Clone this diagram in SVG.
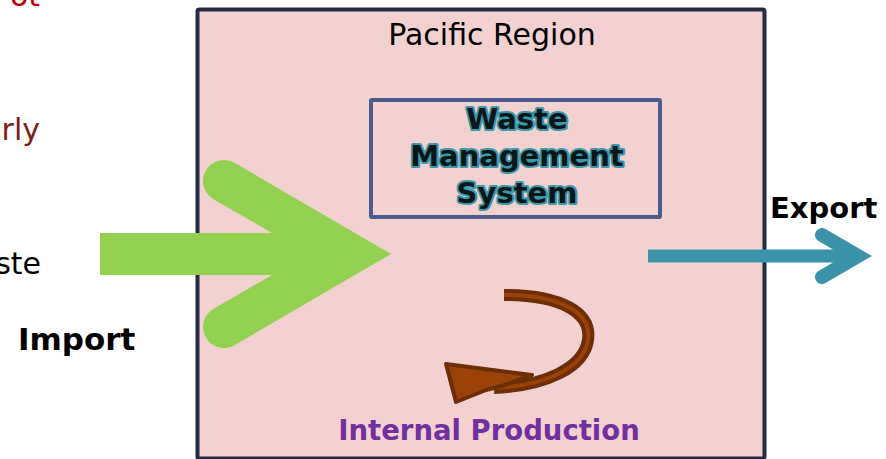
<svg xmlns="http://www.w3.org/2000/svg" width="886" height="459" viewBox="0 0 886 459">
<style>
.reg{font-family:"DejaVu Sans","Liberation Sans",sans-serif;}
.b{font-family:"DejaVu Sans","Liberation Sans",sans-serif;font-weight:bold;}
.wms{font-family:"DejaVu Sans","Liberation Sans",sans-serif;font-weight:bold;font-size:29px;fill:#0B1618;stroke:#3A98AC;stroke-width:4px;paint-order:stroke;stroke-linejoin:round;text-anchor:middle;}
</style>
<rect width="886" height="459" fill="#FFFFFF"/>
<g id="left-text">
<text class="reg" x="40" y="6" font-size="30" fill="#C00000" text-anchor="end">ot</text>
<text class="reg" x="40" y="140" font-size="30" fill="#7B1C1C" text-anchor="end">rly</text>
<text class="reg" x="41" y="274" font-size="30" fill="#000000" text-anchor="end">ste</text>
</g>
<g id="pacific-region">
<rect x="197.5" y="9.5" width="567" height="449" rx="2" fill="#F4D1D1" stroke="#232B45" stroke-width="4"/>
<text class="reg" x="492" y="45" font-size="30" fill="#000000" text-anchor="middle">Pacific Region</text>
</g>
<g id="waste-management-system">
<rect x="371" y="100" width="289" height="117" rx="1" fill="none" stroke="#4B5B8E" stroke-width="4"/>
<text class="wms" x="517" y="129">Waste</text>
<text class="wms" x="517" y="166">Management</text>
<text class="wms" x="517" y="203">System</text>
</g>
<g id="connectors">
<path id="import-arrow" d="M100,233 L272,233 L213.5,199.2 A21,21 0 0 1 234.5,162.8 L391,254 L234.5,345.2 A21,21 0 0 1 213.5,308.8 L272,275 L100,275 Z" fill="#92D050"/>
<g id="export-arrow" fill="none" stroke="#3A93A8" stroke-width="14">
<line x1="648" y1="256" x2="860" y2="256" stroke-width="13"/>
<polyline points="822,235 858,256 822,277" stroke-linecap="round" stroke-linejoin="miter"/>
</g>
<g id="internal-arrow">
<path d="M504,295 C562,295 592,313 588,340 C584,368 545,386 494,388" fill="none" stroke="#6B2E07" stroke-width="12" stroke-linecap="butt"/>
<path d="M504,295 C562,295 592,313 588,340 C584,368 545,386 494,388" fill="none" stroke="#9C4209" stroke-width="4"/>
<polygon points="446,364 532,375 505,385 486,390 456,402" fill="#9C4209" stroke="#6B2E07" stroke-width="4" stroke-linejoin="round"/>
</g>
</g>
<g id="labels">
<text class="b" x="18" y="350" font-size="31" fill="#000000">Import</text>
<text class="b" x="770" y="218" font-size="29" fill="#000000">Export</text>
<text class="b" x="489" y="440" font-size="27.5" fill="#7030A0" text-anchor="middle">Internal Production</text>
</g>
</svg>
